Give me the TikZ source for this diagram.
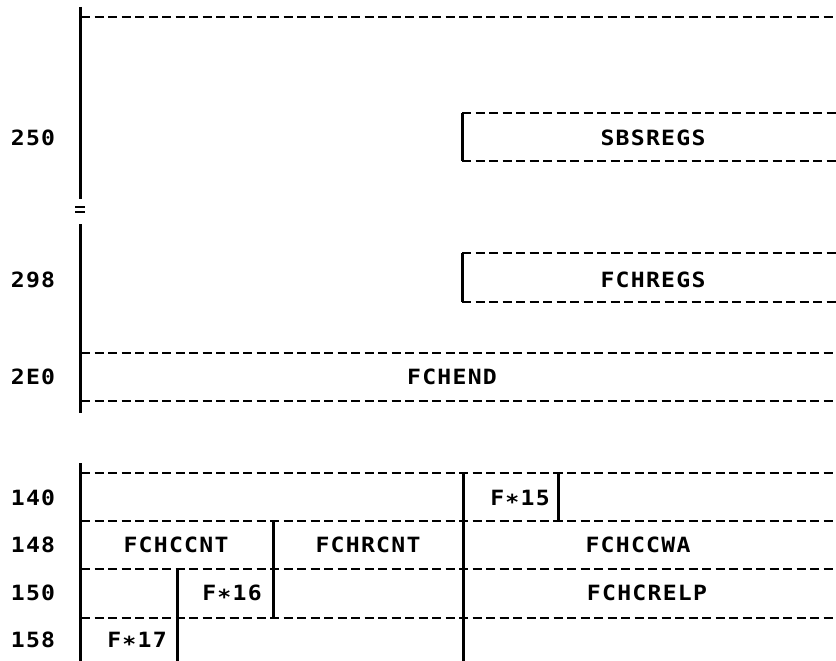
\documentclass[tikz,border=0pt]{standalone}
\usepackage{fontspec}
\newfontfamily\printfont[FakeStretch=1.1,LetterSpace=6]{DejaVu Sans Mono}
\begin{document}
\begin{tikzpicture}[x=1pt,y=-1pt,
  solidl/.style={line width=3pt},
  dashl/.style={line width=2.6pt, dash pattern=on 9pt off 4.5pt},
  lbl/.style={font=\printfont\bfseries\fontsize{21}{25}\selectfont, inner sep=0pt, anchor=center}]
\useasboundingbox (0,0) rectangle (836,661);
% upper block
\draw[solidl] (80,7) -- (80,199);
\draw[solidl] (80,224) -- (80,413);
\draw[line width=1.6pt] (75,207) -- (85,207) (75,212) -- (85,212);
\draw[dashl] (81,17) -- (836,17);
\draw[solidl] (462,113) -- (462,161);
\draw[dashl] (462,113) -- (836,113) (462,161) -- (836,161);
\draw[solidl] (462,253) -- (462,302);
\draw[dashl] (462,253) -- (836,253) (462,302) -- (836,302);
\draw[dashl] (81,353) -- (836,353) (81,401) -- (836,401);
% lower block
\draw[solidl] (80,463) -- (80,661);
\draw[dashl] (81,473) -- (836,473) (81,521) -- (836,521) (81,569) -- (836,569) (81,618) -- (836,618);
\draw[solidl] (463,473) -- (463,661);
\draw[solidl] (558,473) -- (558,521);
\draw[line width=2.2pt] (553,473) -- (563,473) (553,521) -- (563,521);
\draw[solidl] (273,521) -- (273,618);
\draw[solidl] (177,569) -- (177,661);
% labels
\node[lbl] (a250) at (33,138) {250};
\node[lbl] (a298) at (33,280) {298};
\node[lbl] (a2E0) at (33,377) {2E0};
\node[lbl] (fchend) at (452,377) {FCHEND};
\node[lbl] (sbsregs) at (653,138) {SBSREGS};
\node[lbl] (fchregs) at (653,280) {FCHREGS};
\node[lbl] (a140) at (33,498) {140};
\node[lbl] (a148) at (33,545) {148};
\node[lbl] (a150) at (33,593) {150};
\node[lbl] (a158) at (33,640) {158};
\node[lbl] (f15) at (520,498) {F∗15};
\node[lbl] (fchccnt) at (176,545) {FCHCCNT};
\node[lbl] (fchrcnt) at (368,545) {FCHRCNT};
\node[lbl] (fchccwa) at (638,545) {FCHCCWA};
\node[lbl] (fchcrelp) at (647,593) {FCHCRELP};
\node[lbl] (f16) at (232,593) {F∗16};
\node[lbl] (f17) at (137,640) {F∗17};
\end{tikzpicture}
\end{document}
